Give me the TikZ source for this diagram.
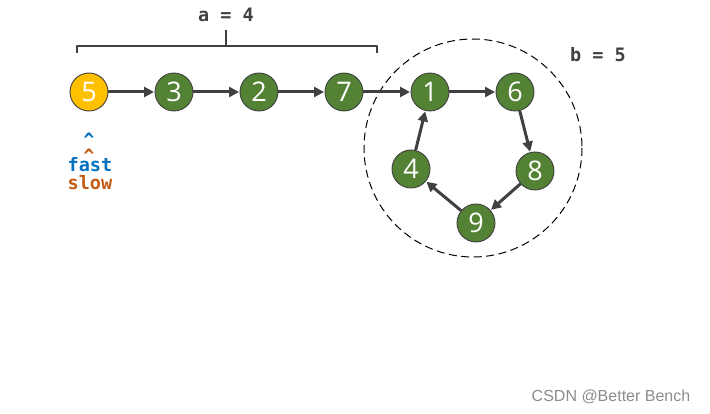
\documentclass[tikz,border=0pt]{standalone}
\usepackage{fontspec}
\setmainfont{Open Sans}
\newfontfamily\codefont{DejaVu Sans Mono}
\newfontfamily\wmfont{Liberation Sans}
\usetikzlibrary{arrows.meta}
\definecolor{ngreen}{HTML}{548235}
\definecolor{nyellow}{HTML}{FFC000}
\definecolor{ngray}{HTML}{404040}
\definecolor{fblue}{HTML}{0070C0}
\definecolor{sorange}{HTML}{C55A11}
\newcommand{\lowcaret}{\smash{\raisebox{-9.5pt}{\^{}}}}
\tikzset{
  lnode/.style={circle, draw=ngray, line width=0.9pt, fill=ngreen, minimum size=38pt, inner sep=0pt, text=white, font=\fontsize{27}{27}\selectfont},
  startnode/.style={lnode, fill=nyellow},
  link/.style={draw=ngray, line width=3pt, -{Triangle[length=10pt,width=10pt]}, shorten >=0.5pt},
  code/.style={font=\codefont\bfseries\fontsize{18.5}{18.5}\selectfont, inner sep=0pt},
  caret/.style={code, text height=4pt, text depth=0pt, anchor=base},
}
\begin{document}
\begin{tikzpicture}[x=1pt,y=-1pt]
\useasboundingbox (0,0) rectangle (710,414);
\draw[line width=1pt, dash pattern=on 8pt off 4.5pt, black] (473,148) circle (109);
\node[startnode] (n5) at (89,92) {5};
\node[lnode] (n3) at (174,92) {3};
\node[lnode] (n2) at (259,92) {2};
\node[lnode] (n7) at (344,92) {7};
\node[lnode] (n1) at (430,92) {1};
\node[lnode] (n6) at (515,92) {6};
\node[lnode] (n8) at (535,171) {8};
\node[lnode] (n9) at (476,223) {9};
\node[lnode] (n4) at (411,169) {4};
\draw[link] (n5) -- (n3);
\draw[link] (n3) -- (n2);
\draw[link] (n2) -- (n7);
\draw[link] (n7) -- (n1);
\draw[link] (n1) -- (n6);
\draw[link] (n6) -- (n8);
\draw[link] (n8) -- (n9);
\draw[link] (n9) -- (n4);
\draw[link] (n4) -- (n1);
% brace
\coordinate (bm) at (226,30);
\draw[ngray, line width=2.2pt, line join=round] (77,53) -- (77,46) -- (377,46) -- (377,53);
\draw[ngray, line width=2.2pt] (226,46) -- (bm);
\node[code, text=ngray] (alabel) at (226,15) {a = 4};
\node[code, text=ngray] (blabel) at (598,55) {b = 5};
% pointers
\node[caret, text=fblue] (fcar) at (89,137) {\lowcaret};
\node[caret, text=sorange] (scar) at (89,153) {\lowcaret};
\node[code, text=fblue] (ftxt) at (90,165) {fast};
\node[code, text=sorange] (stxt) at (90,183) {slow};
\node[font=\wmfont\fontsize{16}{16}\selectfont, text=black!45] (wm) at (611,397) {CSDN @Better Bench};
\end{tikzpicture}
\end{document}
